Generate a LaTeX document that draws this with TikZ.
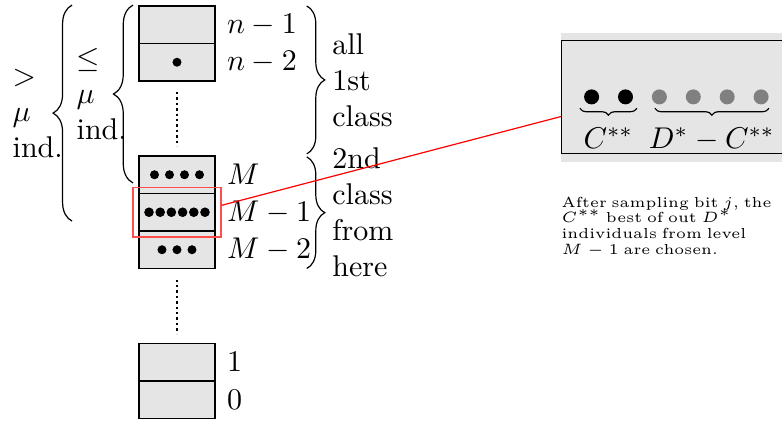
\documentclass[tikz,border=0pt]{standalone}
\usetikzlibrary{positioning}
\usetikzlibrary{decorations.pathreplacing}
\usetikzlibrary{fit}

\tikzset{
  level/.style={rectangle, draw, fill=gray!20, minimum width=25.33pt,
                minimum height=12.5pt, inner sep=0pt, outer sep=0pt},
  gap/.style={line width=0.8pt, densely dotted},
  bigbrace/.style={decorate, decoration={brace, amplitude=6pt}}
}

\begin{document}
\begin{tikzpicture}[x=1pt,y=1pt]
\useasboundingbox (0,0) rectangle (260.67,-141);
\clip (0,0) rectangle (260.67,-141);

%zoomed view of level M-1
\fill[gray!20] (187,-11) rectangle (266,-54);
\node[draw, fill=gray!20, minimum width=79pt, minimum height=37.7pt, inner sep=0pt,
      anchor=north west] (panel) at (187,-13.3) {};

%levels
\node[level] (nm1) at (59,-8.25) {};
\node[level, below=0pt of nm1] (nm2) {};
\node[level, below=25pt of nm2] (m) {};
\node[level, below=0pt of m] (m1) {};
\node[level, below=0pt of m1] (m2) {};
\node[level, below=25pt of m2] (one) {};
\node[level, below=0pt of one] (zero) {};

\draw[gap] ([yshift=-3.7pt]nm2.south) -- ([yshift=3.3pt]m.north);
\draw[gap] ([yshift=-3.7pt]m2.south) -- ([yshift=3.3pt]one.north);

%individuals
\fill (nm2.center) circle (1.5pt);
\foreach \x in {-7.5,-2.5,2.5,7.5} \fill ([xshift=\x pt]m.center) circle (1.5pt);
\foreach \x in {-9.33,-5.6,-1.87,1.87,5.6,9.33} \fill ([xshift=\x pt]m1.center) circle (1.6pt);
\foreach \x in {-5,0,5} \fill ([xshift=\x pt]m2.center) circle (1.5pt);

\node[right=0.5pt of nm1] (lnm1) {$n-1$};
\node[right=0.5pt of nm2] (lnm2) {$n-2$};
\node[right=0.5pt of m] (lm) {$M$};
\node[right=0.5pt of m1] (lm1) {$M-1$};
\node[right=0.5pt of m2] (lm2) {$M-2$};
\node[right=0.5pt of one] (lone) {$1$};
\node[right=0.5pt of zero] (lzero) {$0$};

%classes
\draw[bigbrace] ([xshift=30.6pt]nm1.north east) -- ([xshift=30.6pt,yshift=0.7pt]m.north east)
  node[midway, right=5pt, align=left] (first) {all\\1st\\class};
\draw[bigbrace] ([xshift=30.6pt,yshift=-0.3pt]m.north east) -- ([xshift=30.6pt]m2.south east)
  node[midway, right=5pt, align=left] (second) {2nd\\class\\from\\here};

%number of individuals
\draw[decorate, decoration={brace, amplitude=6.5pt}]
  ([xshift=-2pt,yshift=3.5pt]m.south west) -- ([xshift=-2pt,yshift=0.3pt]nm1.north west)
  node[midway, anchor=west, xshift=-22.3pt, align=left] (le) {$\leq$\\$\mu$\\ind.};
\draw[decorate, decoration={brace, amplitude=6.3pt}]
  ([xshift=-22.33pt,yshift=3.3pt]m1.south west) -- ([xshift=-22.33pt,yshift=0.3pt]nm1.north west)
  node[midway, anchor=west, xshift=-23.3pt, align=left] (gt) {$>$\\$\mu$\\ind.};

%inside the zoomed view
\foreach \x in {197.2,208.5} \fill (\x,-32.3) circle (2.5pt);
\foreach \x in {219.8,231.1,242.4,253.7} \fill[gray] (\x,-32.3) circle (2.5pt);
\draw[decorate, decoration={brace, amplitude=2.3pt}] (212.3,-36.1) -- (193.3,-36.1)
  node[midway, below=3pt] (best) {$C^{**}$};
\draw[decorate, decoration={brace, amplitude=2.3pt}] (256.3,-36.1) -- (218.3,-36.1)
  node[midway, below=3pt] (rest) {$D^*-C^{**}$};

\node[draw=red!70, fit=(m1), inner sep=2pt] (spot) {};
\draw[red] ([yshift=2.3pt]spot.east) -- ([yshift=-6.5pt]panel.west);

\node[anchor=north west, inner sep=0pt, text width=80pt, align=left,
      font={\fontsize{4.85pt}{5.2pt}\selectfont\lineskiplimit=-10pt}]
  (note) at ([yshift=-14pt]panel.south west)
  {After sampling bit $j$, the\\$C^{**}$ best of out $D^*$\\individuals from level\\$M-1$ are chosen.};
\end{tikzpicture}
\end{document}
